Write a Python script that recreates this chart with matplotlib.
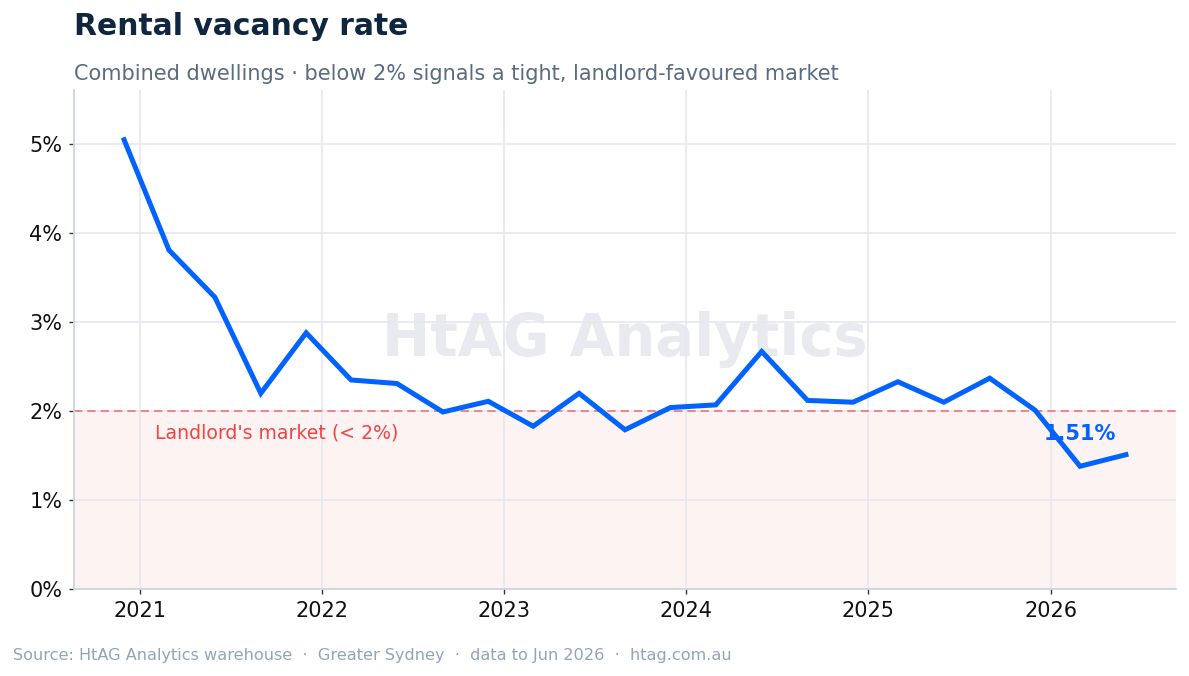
import pandas as pd
import matplotlib
matplotlib.use("Agg")
import matplotlib.pyplot as plt
import matplotlib.dates as mdates
from matplotlib.ticker import FuncFormatter, MultipleLocator

# quarterly readings, first of month
months = ["2020-12", "2021-03", "2021-06", "2021-09", "2021-12",
          "2022-03", "2022-06", "2022-09", "2022-12",
          "2023-03", "2023-06", "2023-09", "2023-12",
          "2024-03", "2024-06", "2024-09", "2024-12",
          "2025-03", "2025-06", "2025-09", "2025-12",
          "2026-03", "2026-06"]
vacancy = [5.05, 3.81, 3.28, 2.20, 2.88,
           2.35, 2.31, 1.99, 2.11,
           1.83, 2.20, 1.79, 2.04,
           2.07, 2.67, 2.12, 2.10,
           2.33, 2.10, 2.37, 2.01,
           1.38, 1.51]
threshold = 2.0
year_ticks = [2021, 2022, 2023, 2024, 2025, 2026]

BLUE = "#0062ff"
RED = "#ef4444"


def pct(x, pos):
    return f"{x:.0f}%"


def main():
    dates = pd.to_datetime(months)
    W, H = 1189, 676
    fig = plt.figure(figsize=(W / 100, H / 100), dpi=100)
    ax = fig.add_axes([74 / W, 1 - 589 / H, (1176 - 74) / W, (589 - 90) / H])

    ax.axhspan(0, threshold, color="#fdf3f3", zorder=0.1, lw=0)
    ax.axhline(threshold, color=RED, alpha=0.7, lw=1.2, ls=(0, (5, 3)), zorder=1)
    ax.text(0.5, 0.5, "HtAG Analytics", transform=ax.transAxes, ha="center", va="center",
            fontsize=41.5, fontweight="bold", color="#e9eaef", zorder=0.2)

    ax.plot(dates, vacancy, color=BLUE, lw=3.6, solid_joinstyle="miter", zorder=3)

    ax.text(pd.Timestamp("2021-02-01"), 1.75, "Landlord's market (< 2%)", color=RED,
            fontsize=13.6, va="center", ha="left", zorder=2)
    ax.annotate(f"{vacancy[-1]:.2f}%", (dates[-1], vacancy[-1]), xytext=(-33, 15),
                textcoords="offset points", ha="center", va="center",
                fontsize=15, fontweight="bold", color=BLUE, zorder=4)

    ax.set_ylim(0, 5.61)
    ax.margins(x=0.05)
    ax.yaxis.set_major_locator(MultipleLocator(1))
    ax.yaxis.set_major_formatter(FuncFormatter(pct))
    ax.set_xticks([pd.Timestamp(f"{y}-01-01") for y in year_ticks])
    ax.xaxis.set_major_formatter(mdates.DateFormatter("%Y"))

    ax.set_axisbelow(True)
    ax.grid(True, color="#e6e8f0", lw=1.2)
    for s in ["top", "right"]:
        ax.spines[s].set_visible(False)
    for s in ["left", "bottom"]:
        ax.spines[s].set_color("#cbd5e1")
        ax.spines[s].set_linewidth(1.3)
    ax.tick_params(labelsize=15, colors="#111111", length=3.5, width=1, pad=5)
    ax.tick_params(axis="both", color="#333333")

    fig.text(74 / W, 1 - 35 / H, "Rental vacancy rate", fontsize=21.4, fontweight="bold",
             color="#0f2540", va="baseline", ha="left")
    fig.text(74 / W, 1 - 80 / H, "Combined dwellings \u00b7 below 2% signals a tight, landlord-favoured market",
             fontsize=15, color="#5b6b80", va="baseline", ha="left")
    fig.text(13 / W, 1 - 660 / H,
             "Source: HtAG Analytics warehouse  \u00b7  Greater Sydney  \u00b7  data to Jun 2026  \u00b7  htag.com.au",
             fontsize=11.6, color="#94a3b8", va="baseline", ha="left")

    fig.savefig("out.png", dpi=100, facecolor="white")


if __name__ == "__main__":
    main()
